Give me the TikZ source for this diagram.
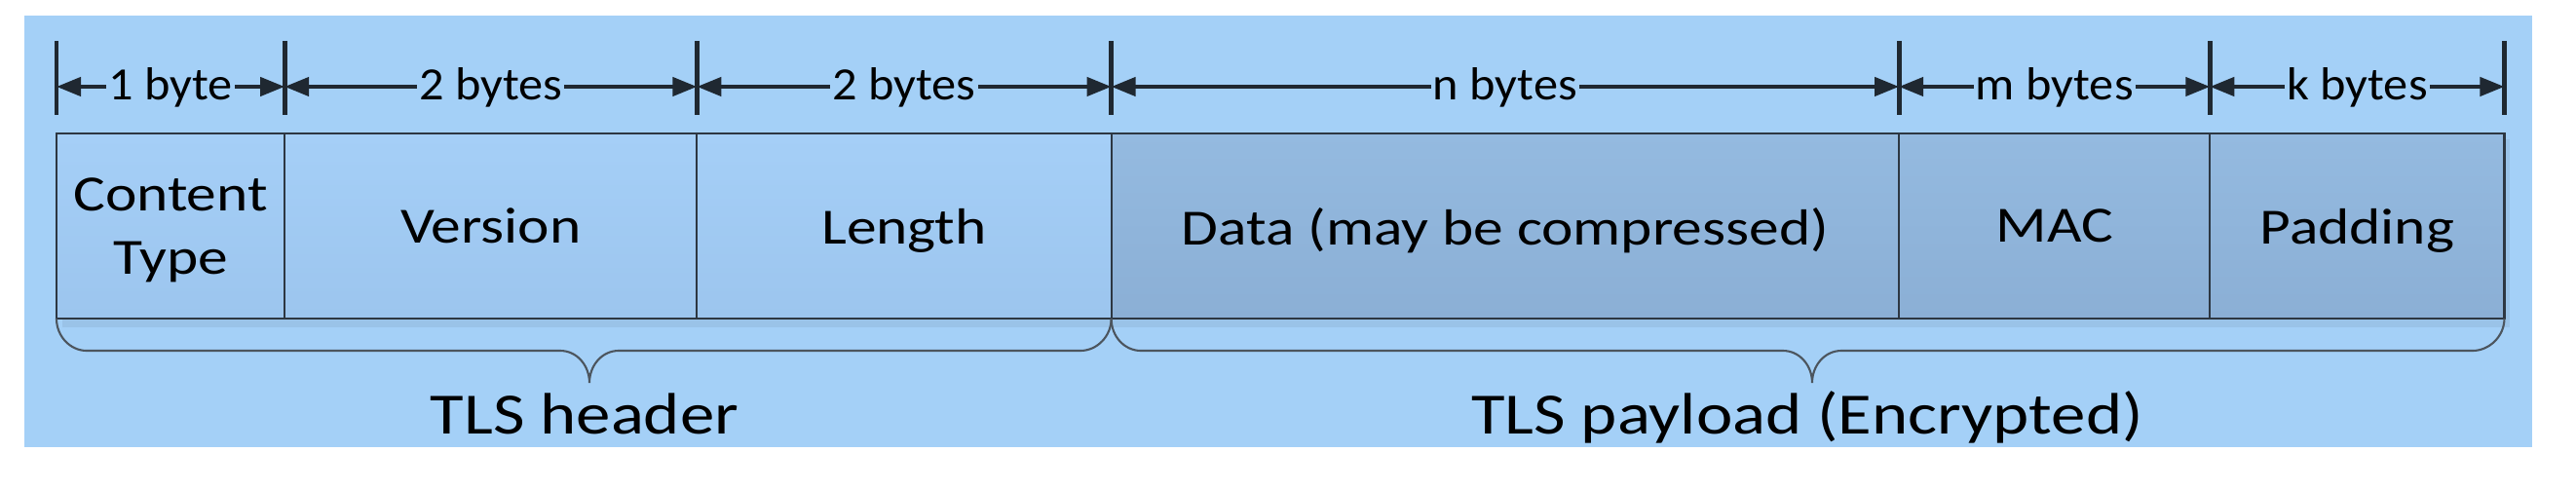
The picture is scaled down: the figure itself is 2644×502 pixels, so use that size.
\documentclass[tikz,border=0pt]{standalone}
\usepackage{fontspec}
\setmainfont[FakeStretch=1.18]{Carlito}
\newfontfamily\dimfont[FakeStretch=1.06]{Carlito}
\usetikzlibrary{arrows.meta}
\definecolor{bgblue}{RGB}{164,208,247}
\definecolor{hdtop}{RGB}{165,207,247}
\definecolor{hdbot}{RGB}{156,197,238}
\definecolor{pltop}{RGB}{148,186,224}
\definecolor{plbot}{RGB}{139,175,213}
\definecolor{edge}{RGB}{45,55,66}
\definecolor{ink}{RGB}{31,40,49}
\begin{document}
\begin{tikzpicture}[x=0.01cm,y=-0.01cm,
  field/.style={draw=edge, line width=0.6pt, anchor=north west, inner sep=0pt, outer sep=0pt,
    minimum height=1.9cm, align=center, font=\fontsize{14.8}{18.5}\selectfont, text=black},
  hdr/.style={field, top color=hdtop, bottom color=hdbot},
  pay/.style={field, top color=pltop, bottom color=plbot},
  tickline/.style={draw=ink, line width=1.4pt},
  dimline/.style={draw=ink, line width=1.2pt,
    {Triangle[length=0.25cm,width=0.19cm]}-{Triangle[length=0.25cm,width=0.19cm]}},
  dimlbl/.style={fill=bgblue, inner xsep=0.6pt, inner ysep=1pt, anchor=base, yshift=-0.14cm,
    font=\dimfont\fontsize{13.5}{16}\selectfont, text=black},
  bracepath/.style={draw=edge!85, line width=0.6pt},
  bigtext/.style={font=\fontsize{17.07}{20}\selectfont, anchor=base, text=black}
]
\useasboundingbox (0,0) rectangle (2644,502);
\fill[bgblue] (25,16) rectangle (2599,459);
% soft shadow of the record
\fill[black, opacity=0.06] (64,143) rectangle (2576,336);

% fields
\node[hdr, minimum width=2.34cm, text depth=0pt] (ct) at (58,137) {Content\\\smash{Type}};
\node[hdr, minimum width=4.23cm, text depth=0pt] (ver) at (ct.north east) {Version};
\node[hdr, minimum width=4.25cm, text depth=0pt] (len) at (ver.north east) {Length};
\node[pay, minimum width=8.08cm, text depth=0pt] (data) at (len.north east) {Data (may be compressed)};
\node[pay, minimum width=3.19cm, text depth=0pt] (mac) at (data.north east) {MAC};
\node[pay, minimum width=3.02cm, text depth=0pt] (pad) at (mac.north east) {Padding};

% dimension ticks
\coordinate (t0) at ([yshift=0.48cm]ct.north west);
\coordinate (t1) at ([yshift=0.48cm]ct.north east);
\coordinate (t2) at ([yshift=0.48cm]ver.north east);
\coordinate (t3) at ([yshift=0.48cm]len.north east);
\coordinate (t4) at ([yshift=0.48cm]data.north east);
\coordinate (t5) at ([yshift=0.48cm]mac.north east);
\coordinate (t6) at ([yshift=0.48cm]pad.north east);
\foreach \t in {t0,t1,t2,t3,t4,t5,t6}
  \draw[tickline] ([yshift=0.47cm]\t) -- ([yshift=-0.29cm]\t);

% dimension arrows
\draw[dimline] (t0) -- node[dimlbl] (l0) {1 byte} (t1);
\draw[dimline] (t1) -- node[dimlbl] (l1) {2 bytes} (t2);
\draw[dimline] (t2) -- node[dimlbl] (l2) {2 bytes} (t3);
\draw[dimline] (t3) -- node[dimlbl] (l3) {n bytes} (t4);
\draw[dimline] (t4) -- node[dimlbl] (l4) {m bytes} (t5);
\draw[dimline] (t5) -- node[dimlbl] (l5) {k bytes} (t6);

% braces
\draw[bracepath] (ct.south west) .. controls +(0,18) and +(-17,0) .. (89,360)
  -- (575,360) .. controls +(17,0) and +(0,-18) .. (605,393)
  .. controls +(0,-18) and +(-17,0) .. (635,360)
  -- (1109,360) .. controls +(17,0) and +(0,18) .. (len.south east);
\draw[bracepath] (data.south west) .. controls +(0,18) and +(-17,0) .. (1171,360)
  -- (1830,360) .. controls +(17,0) and +(0,-18) .. (1860,393)
  .. controls +(0,-18) and +(-17,0) .. (1890,360)
  -- (2538,360) .. controls +(17,0) and +(0,18) .. (pad.south east);

\node[bigtext] (hdrlbl) at (600,445) {TLS header};
\node[bigtext] (paylbl) at (1855,445) {TLS payload (Encrypted)};
\end{tikzpicture}
\end{document}
